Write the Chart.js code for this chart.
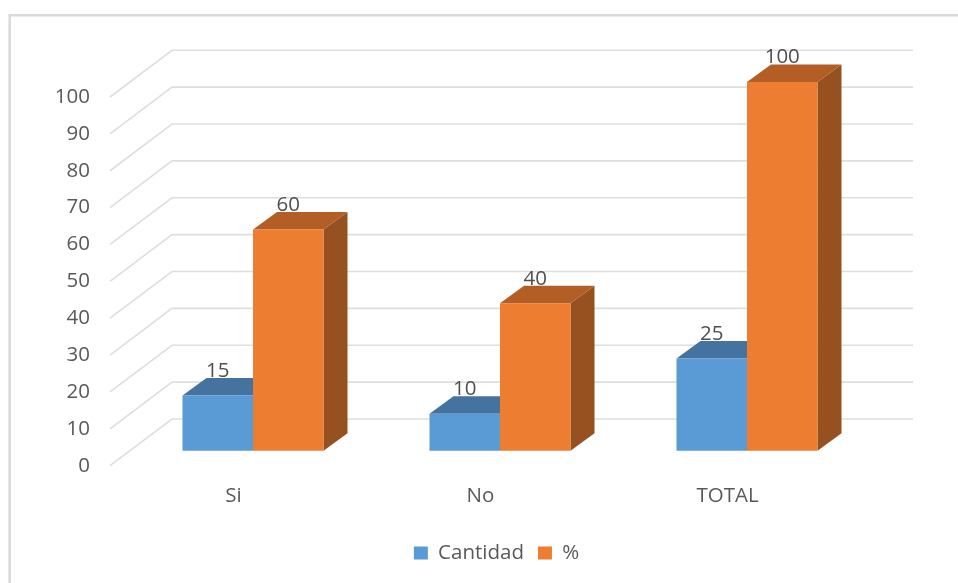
<!DOCTYPE html>
<html>
<head>
<meta charset="utf-8">
<script src="https://cdn.jsdelivr.net/npm/chart.js@4"></script>
<style>
  html, body { margin: 0; padding: 0; background: #fff; }
  #box { width: 958px; height: 583px; }
</style>
</head>
<body>
<div id="box"><canvas id="grafico"></canvas></div>
<script>
const categorias = ["Si", "No", "TOTAL"];
const cantidad = [15, 10, 25];
const porcentaje = [60, 40, 100];
const ticksY = [0, 10, 20, 30, 40, 50, 60, 70, 80, 90, 100];

const FUENTE = "'Open Sans'";
const GRIS = "#595959";

// caras laterales y superiores de cada serie
const caras = [
  { top: "#44739f", side: "#3a6388" },
  { top: "#b25e25", side: "#975020" }
];

// barras dentro del "piso" 3D, y fondo de la grafica
const barraDX = 19.5, barraDY = -15;
const profX = 24, profY = -17.5;
const fondoDX = 62, fondoDY = -46.7;

const efecto3D = {
  id: "efecto3D",
  beforeDraw(chart) {
    const ctx = chart.ctx;
    const { left, right } = chart.chartArea;
    const y = chart.scales.y;

    // marco de la imagen (solo arriba e izquierda)
    ctx.save();
    ctx.strokeStyle = "#d9d9d9";
    ctx.lineWidth = 2.5;
    ctx.beginPath();
    ctx.moveTo(9.7, 583);
    ctx.lineTo(9.7, 15.3);
    ctx.lineTo(958, 15.3);
    ctx.stroke();

    // lineas de la cuadricula: diagonal + pared del fondo
    ctx.strokeStyle = "#dedede";
    ctx.lineWidth = 1.6;
    ticksY.forEach(v => {
      const py = y.getPixelForValue(v);
      ctx.beginPath();
      ctx.moveTo(left, py);
      ctx.lineTo(left + fondoDX, py + fondoDY);
      ctx.lineTo(right + fondoDX, py + fondoDY);
      ctx.stroke();
    });
    ctx.restore();
  },
  beforeDatasetsDraw(chart) {
    const ctx = chart.ctx;
    ctx.save();
    ctx.translate(barraDX, barraDY);
    chart.data.datasets.forEach((ds, i) => {
      chart.getDatasetMeta(i).data.forEach(bar => {
        const x0 = bar.x - bar.width / 2;
        const x1 = bar.x + bar.width / 2;
        ctx.fillStyle = caras[i].side;
        ctx.beginPath();
        ctx.moveTo(x1, bar.y);
        ctx.lineTo(x1 + profX, bar.y + profY);
        ctx.lineTo(x1 + profX, bar.base + profY);
        ctx.lineTo(x1, bar.base);
        ctx.closePath();
        ctx.fill();
        ctx.fillStyle = caras[i].top;
        ctx.beginPath();
        ctx.moveTo(x0, bar.y);
        ctx.lineTo(x0 + profX, bar.y + profY);
        ctx.lineTo(x1 + profX, bar.y + profY);
        ctx.lineTo(x1, bar.y);
        ctx.closePath();
        ctx.fill();
      });
    });
  },
  afterDatasetsDraw(chart) {
    const ctx = chart.ctx;
    ctx.fillStyle = "#4f4f4f";
    ctx.font = "20.5px " + FUENTE;
    ctx.textAlign = "center";
    ctx.textBaseline = "middle";
    chart.data.datasets.forEach((ds, i) => {
      chart.getDatasetMeta(i).data.forEach((bar, j) => {
        ctx.fillText(ds.data[j], bar.x, bar.y - 24.5);
      });
    });
    ctx.restore();
  }
};

new Chart(document.getElementById("grafico"), {
  type: "bar",
  data: {
    labels: categorias,
    datasets: [
      { label: "Cantidad", data: cantidad, backgroundColor: "#5b9bd5", clip: false },
      { label: "%", data: porcentaje, backgroundColor: "#ed7d31", clip: false }
    ]
  },
  plugins: [efecto3D],
  options: {
    responsive: true,
    maintainAspectRatio: false,
    animation: false,
    layout: { padding: { left: 35, right: 0, top: 97, bottom: 9.75 } },
    datasets: { bar: { categoryPercentage: 0.571, barPercentage: 1 } },
    scales: {
      x: {
        grid: { display: false },
        border: { display: false },
        ticks: { color: GRIS, font: { family: FUENTE, size: 20.5 }, padding: 10, maxRotation: 0 },
        afterFit: s => { s.height = 63.05; }
      },
      y: {
        min: 0,
        max: 100,
        grid: { display: false },
        border: { display: false },
        ticks: { stepSize: 10, color: GRIS, font: { family: FUENTE, size: 20.5 }, padding: 12 },
        afterFit: s => { s.width = 75; }
      },
      // solo reserva el espacio a la derecha
      derecha: {
        type: "linear",
        position: "right",
        min: 0,
        max: 100,
        grid: { display: false },
        border: { display: false },
        ticks: { display: false },
        afterFit: s => { s.width = 107; }
      }
    },
    plugins: {
      tooltip: { enabled: false },
      legend: {
        position: "bottom",
        labels: {
          color: GRIS,
          font: { family: FUENTE, size: 20.5 },
          boxWidth: 14,
          boxHeight: 13,
          padding: 14
        }
      }
    }
  }
});
</script>
</body>
</html>
